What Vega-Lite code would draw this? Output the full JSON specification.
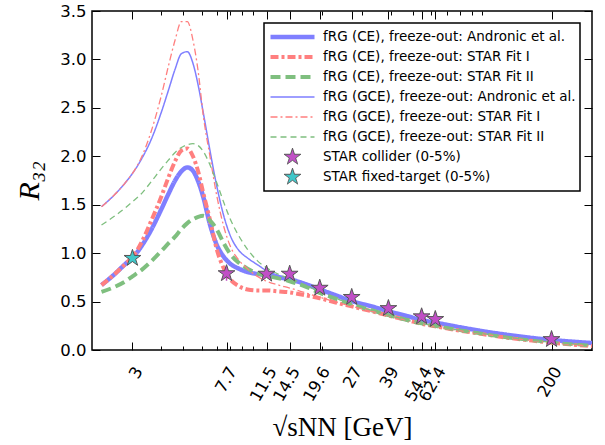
{
 "$schema": "https://vega.github.io/schema/vega-lite/v6.json",
 "width": 500,
 "height": 339,
 "autosize": {"type": "none"},
 "padding": {"left": 92, "top": 11, "right": 13, "bottom": 95},
 "background": "white",
 "config": {
  "view": {"stroke": "black", "strokeWidth": 1.5},
  "font": "DejaVu Sans",
  "axis": {"grid": false, "domain": false, "tickColor": "black", "tickWidth": 1, "labelColor": "black", "titleColor": "black", "labelFont": "DejaVu Sans", "labelFontSize": 16.5},
  "legend": {"orient": "top-right", "offset": 12, "padding": 4, "strokeColor": "black", "strokeWidth": 1.5, "fillColor": "white", "labelFont": "DejaVu Sans", "labelFontSize": 13.5, "labelColor": "black", "labelLimit": 400, "symbolSize": 1936, "clipHeight": 20, "rowPadding": 0, "labelOffset": 6, "cornerRadius": 0}
 },
 "data": {"values": [
  {"s":"fRG (CE), freeze-out: Andronic et al.","x":2.2,"y":0.67},{"s":"fRG (CE), freeze-out: Andronic et al.","x":2.5,"y":0.78},{"s":"fRG (CE), freeze-out: Andronic et al.","x":2.8,"y":0.89},{"s":"fRG (CE), freeze-out: Andronic et al.","x":3,"y":0.95},{"s":"fRG (CE), freeze-out: Andronic et al.","x":3.3,"y":1.08},{"s":"fRG (CE), freeze-out: Andronic et al.","x":3.6,"y":1.23},{"s":"fRG (CE), freeze-out: Andronic et al.","x":4,"y":1.45},{"s":"fRG (CE), freeze-out: Andronic et al.","x":4.3,"y":1.61},{"s":"fRG (CE), freeze-out: Andronic et al.","x":4.6,"y":1.75},{"s":"fRG (CE), freeze-out: Andronic et al.","x":4.9,"y":1.845},{"s":"fRG (CE), freeze-out: Andronic et al.","x":5.2,"y":1.885},{"s":"fRG (CE), freeze-out: Andronic et al.","x":5.5,"y":1.85},{"s":"fRG (CE), freeze-out: Andronic et al.","x":5.8,"y":1.74},{"s":"fRG (CE), freeze-out: Andronic et al.","x":6.1,"y":1.58},{"s":"fRG (CE), freeze-out: Andronic et al.","x":6.5,"y":1.31},{"s":"fRG (CE), freeze-out: Andronic et al.","x":7,"y":1.08},{"s":"fRG (CE), freeze-out: Andronic et al.","x":7.5,"y":0.96},{"s":"fRG (CE), freeze-out: Andronic et al.","x":8,"y":0.89},{"s":"fRG (CE), freeze-out: Andronic et al.","x":8.7,"y":0.84},{"s":"fRG (CE), freeze-out: Andronic et al.","x":9.5,"y":0.805},{"s":"fRG (CE), freeze-out: Andronic et al.","x":10.5,"y":0.785},{"s":"fRG (CE), freeze-out: Andronic et al.","x":11.5,"y":0.775},{"s":"fRG (CE), freeze-out: Andronic et al.","x":13,"y":0.75},{"s":"fRG (CE), freeze-out: Andronic et al.","x":14.5,"y":0.73},{"s":"fRG (CE), freeze-out: Andronic et al.","x":17,"y":0.68},{"s":"fRG (CE), freeze-out: Andronic et al.","x":19.6,"y":0.625},{"s":"fRG (CE), freeze-out: Andronic et al.","x":23,"y":0.565},{"s":"fRG (CE), freeze-out: Andronic et al.","x":27,"y":0.505},{"s":"fRG (CE), freeze-out: Andronic et al.","x":33,"y":0.45},{"s":"fRG (CE), freeze-out: Andronic et al.","x":39,"y":0.4},{"s":"fRG (CE), freeze-out: Andronic et al.","x":47,"y":0.35},{"s":"fRG (CE), freeze-out: Andronic et al.","x":54.4,"y":0.31},{"s":"fRG (CE), freeze-out: Andronic et al.","x":62.4,"y":0.283},{"s":"fRG (CE), freeze-out: Andronic et al.","x":80,"y":0.235},{"s":"fRG (CE), freeze-out: Andronic et al.","x":100,"y":0.195},{"s":"fRG (CE), freeze-out: Andronic et al.","x":130,"y":0.155},{"s":"fRG (CE), freeze-out: Andronic et al.","x":160,"y":0.128},{"s":"fRG (CE), freeze-out: Andronic et al.","x":200,"y":0.103},{"s":"fRG (CE), freeze-out: Andronic et al.","x":250,"y":0.085},{"s":"fRG (CE), freeze-out: Andronic et al.","x":300,"y":0.072},

  {"s":"fRG (CE), freeze-out: STAR Fit I","x":2.2,"y":0.67},{"s":"fRG (CE), freeze-out: STAR Fit I","x":2.5,"y":0.78},{"s":"fRG (CE), freeze-out: STAR Fit I","x":2.8,"y":0.89},{"s":"fRG (CE), freeze-out: STAR Fit I","x":3,"y":0.96},{"s":"fRG (CE), freeze-out: STAR Fit I","x":3.3,"y":1.12},{"s":"fRG (CE), freeze-out: STAR Fit I","x":3.6,"y":1.32},{"s":"fRG (CE), freeze-out: STAR Fit I","x":4,"y":1.58},{"s":"fRG (CE), freeze-out: STAR Fit I","x":4.3,"y":1.78},{"s":"fRG (CE), freeze-out: STAR Fit I","x":4.6,"y":1.95},{"s":"fRG (CE), freeze-out: STAR Fit I","x":4.9,"y":2.06},{"s":"fRG (CE), freeze-out: STAR Fit I","x":5.2,"y":2.08},{"s":"fRG (CE), freeze-out: STAR Fit I","x":5.5,"y":2.0},{"s":"fRG (CE), freeze-out: STAR Fit I","x":5.8,"y":1.84},{"s":"fRG (CE), freeze-out: STAR Fit I","x":6.1,"y":1.62},{"s":"fRG (CE), freeze-out: STAR Fit I","x":6.5,"y":1.36},{"s":"fRG (CE), freeze-out: STAR Fit I","x":7,"y":1.03},{"s":"fRG (CE), freeze-out: STAR Fit I","x":7.5,"y":0.84},{"s":"fRG (CE), freeze-out: STAR Fit I","x":8,"y":0.73},{"s":"fRG (CE), freeze-out: STAR Fit I","x":8.7,"y":0.66},{"s":"fRG (CE), freeze-out: STAR Fit I","x":9.5,"y":0.625},{"s":"fRG (CE), freeze-out: STAR Fit I","x":10.5,"y":0.615},{"s":"fRG (CE), freeze-out: STAR Fit I","x":11.5,"y":0.615},{"s":"fRG (CE), freeze-out: STAR Fit I","x":13,"y":0.605},{"s":"fRG (CE), freeze-out: STAR Fit I","x":14.5,"y":0.595},{"s":"fRG (CE), freeze-out: STAR Fit I","x":17,"y":0.565},{"s":"fRG (CE), freeze-out: STAR Fit I","x":19.6,"y":0.535},{"s":"fRG (CE), freeze-out: STAR Fit I","x":23,"y":0.49},{"s":"fRG (CE), freeze-out: STAR Fit I","x":27,"y":0.45},{"s":"fRG (CE), freeze-out: STAR Fit I","x":33,"y":0.4},{"s":"fRG (CE), freeze-out: STAR Fit I","x":39,"y":0.355},{"s":"fRG (CE), freeze-out: STAR Fit I","x":47,"y":0.31},{"s":"fRG (CE), freeze-out: STAR Fit I","x":54.4,"y":0.27},{"s":"fRG (CE), freeze-out: STAR Fit I","x":62.4,"y":0.245},{"s":"fRG (CE), freeze-out: STAR Fit I","x":80,"y":0.2},{"s":"fRG (CE), freeze-out: STAR Fit I","x":100,"y":0.165},{"s":"fRG (CE), freeze-out: STAR Fit I","x":130,"y":0.125},{"s":"fRG (CE), freeze-out: STAR Fit I","x":160,"y":0.1},{"s":"fRG (CE), freeze-out: STAR Fit I","x":200,"y":0.075},{"s":"fRG (CE), freeze-out: STAR Fit I","x":250,"y":0.055},{"s":"fRG (CE), freeze-out: STAR Fit I","x":300,"y":0.04},

  {"s":"fRG (CE), freeze-out: STAR Fit II","x":2.2,"y":0.6},{"s":"fRG (CE), freeze-out: STAR Fit II","x":2.5,"y":0.65},{"s":"fRG (CE), freeze-out: STAR Fit II","x":2.8,"y":0.71},{"s":"fRG (CE), freeze-out: STAR Fit II","x":3,"y":0.76},{"s":"fRG (CE), freeze-out: STAR Fit II","x":3.3,"y":0.83},{"s":"fRG (CE), freeze-out: STAR Fit II","x":3.6,"y":0.91},{"s":"fRG (CE), freeze-out: STAR Fit II","x":4,"y":1.02},{"s":"fRG (CE), freeze-out: STAR Fit II","x":4.3,"y":1.1},{"s":"fRG (CE), freeze-out: STAR Fit II","x":4.6,"y":1.17},{"s":"fRG (CE), freeze-out: STAR Fit II","x":4.9,"y":1.25},{"s":"fRG (CE), freeze-out: STAR Fit II","x":5.2,"y":1.31},{"s":"fRG (CE), freeze-out: STAR Fit II","x":5.5,"y":1.35},{"s":"fRG (CE), freeze-out: STAR Fit II","x":5.8,"y":1.375},{"s":"fRG (CE), freeze-out: STAR Fit II","x":6.1,"y":1.385},{"s":"fRG (CE), freeze-out: STAR Fit II","x":6.5,"y":1.34},{"s":"fRG (CE), freeze-out: STAR Fit II","x":7,"y":1.24},{"s":"fRG (CE), freeze-out: STAR Fit II","x":7.5,"y":1.1},{"s":"fRG (CE), freeze-out: STAR Fit II","x":8,"y":0.99},{"s":"fRG (CE), freeze-out: STAR Fit II","x":8.7,"y":0.9},{"s":"fRG (CE), freeze-out: STAR Fit II","x":9.5,"y":0.84},{"s":"fRG (CE), freeze-out: STAR Fit II","x":10.5,"y":0.79},{"s":"fRG (CE), freeze-out: STAR Fit II","x":11.5,"y":0.765},{"s":"fRG (CE), freeze-out: STAR Fit II","x":13,"y":0.74},{"s":"fRG (CE), freeze-out: STAR Fit II","x":14.5,"y":0.71},{"s":"fRG (CE), freeze-out: STAR Fit II","x":17,"y":0.655},{"s":"fRG (CE), freeze-out: STAR Fit II","x":19.6,"y":0.59},{"s":"fRG (CE), freeze-out: STAR Fit II","x":23,"y":0.53},{"s":"fRG (CE), freeze-out: STAR Fit II","x":27,"y":0.47},{"s":"fRG (CE), freeze-out: STAR Fit II","x":33,"y":0.41},{"s":"fRG (CE), freeze-out: STAR Fit II","x":39,"y":0.36},{"s":"fRG (CE), freeze-out: STAR Fit II","x":47,"y":0.31},{"s":"fRG (CE), freeze-out: STAR Fit II","x":54.4,"y":0.275},{"s":"fRG (CE), freeze-out: STAR Fit II","x":62.4,"y":0.25},{"s":"fRG (CE), freeze-out: STAR Fit II","x":80,"y":0.205},{"s":"fRG (CE), freeze-out: STAR Fit II","x":100,"y":0.17},{"s":"fRG (CE), freeze-out: STAR Fit II","x":130,"y":0.13},{"s":"fRG (CE), freeze-out: STAR Fit II","x":160,"y":0.105},{"s":"fRG (CE), freeze-out: STAR Fit II","x":200,"y":0.08},{"s":"fRG (CE), freeze-out: STAR Fit II","x":250,"y":0.062},{"s":"fRG (CE), freeze-out: STAR Fit II","x":300,"y":0.05},

  {"s":"fRG (GCE), freeze-out: Andronic et al.","x":2.2,"y":1.48},{"s":"fRG (GCE), freeze-out: Andronic et al.","x":2.5,"y":1.6},{"s":"fRG (GCE), freeze-out: Andronic et al.","x":2.8,"y":1.73},{"s":"fRG (GCE), freeze-out: Andronic et al.","x":3,"y":1.823},{"s":"fRG (GCE), freeze-out: Andronic et al.","x":3.3,"y":1.98},{"s":"fRG (GCE), freeze-out: Andronic et al.","x":3.6,"y":2.16},{"s":"fRG (GCE), freeze-out: Andronic et al.","x":4,"y":2.45},{"s":"fRG (GCE), freeze-out: Andronic et al.","x":4.3,"y":2.68},{"s":"fRG (GCE), freeze-out: Andronic et al.","x":4.6,"y":2.9},{"s":"fRG (GCE), freeze-out: Andronic et al.","x":4.9,"y":3.06},{"s":"fRG (GCE), freeze-out: Andronic et al.","x":5.2,"y":3.08},{"s":"fRG (GCE), freeze-out: Andronic et al.","x":5.5,"y":2.96},{"s":"fRG (GCE), freeze-out: Andronic et al.","x":5.8,"y":2.73},{"s":"fRG (GCE), freeze-out: Andronic et al.","x":6.1,"y":2.45},{"s":"fRG (GCE), freeze-out: Andronic et al.","x":6.5,"y":2.08},{"s":"fRG (GCE), freeze-out: Andronic et al.","x":7,"y":1.68},{"s":"fRG (GCE), freeze-out: Andronic et al.","x":7.5,"y":1.38},{"s":"fRG (GCE), freeze-out: Andronic et al.","x":8,"y":1.18},{"s":"fRG (GCE), freeze-out: Andronic et al.","x":8.7,"y":1.03},{"s":"fRG (GCE), freeze-out: Andronic et al.","x":9.5,"y":0.95},{"s":"fRG (GCE), freeze-out: Andronic et al.","x":10.5,"y":0.88},{"s":"fRG (GCE), freeze-out: Andronic et al.","x":11.5,"y":0.82},{"s":"fRG (GCE), freeze-out: Andronic et al.","x":13,"y":0.77},{"s":"fRG (GCE), freeze-out: Andronic et al.","x":14.5,"y":0.74},{"s":"fRG (GCE), freeze-out: Andronic et al.","x":17,"y":0.685},{"s":"fRG (GCE), freeze-out: Andronic et al.","x":19.6,"y":0.628},{"s":"fRG (GCE), freeze-out: Andronic et al.","x":23,"y":0.567},{"s":"fRG (GCE), freeze-out: Andronic et al.","x":27,"y":0.507},{"s":"fRG (GCE), freeze-out: Andronic et al.","x":33,"y":0.45},{"s":"fRG (GCE), freeze-out: Andronic et al.","x":39,"y":0.4},{"s":"fRG (GCE), freeze-out: Andronic et al.","x":54.4,"y":0.31},{"s":"fRG (GCE), freeze-out: Andronic et al.","x":100,"y":0.195},{"s":"fRG (GCE), freeze-out: Andronic et al.","x":200,"y":0.103},{"s":"fRG (GCE), freeze-out: Andronic et al.","x":300,"y":0.072},

  {"s":"fRG (GCE), freeze-out: STAR Fit I","x":2.2,"y":1.48},{"s":"fRG (GCE), freeze-out: STAR Fit I","x":2.5,"y":1.6},{"s":"fRG (GCE), freeze-out: STAR Fit I","x":2.8,"y":1.73},{"s":"fRG (GCE), freeze-out: STAR Fit I","x":3,"y":1.823},{"s":"fRG (GCE), freeze-out: STAR Fit I","x":3.3,"y":2.0},{"s":"fRG (GCE), freeze-out: STAR Fit I","x":3.6,"y":2.24},{"s":"fRG (GCE), freeze-out: STAR Fit I","x":4,"y":2.62},{"s":"fRG (GCE), freeze-out: STAR Fit I","x":4.3,"y":2.93},{"s":"fRG (GCE), freeze-out: STAR Fit I","x":4.6,"y":3.2},{"s":"fRG (GCE), freeze-out: STAR Fit I","x":4.9,"y":3.39},{"s":"fRG (GCE), freeze-out: STAR Fit I","x":5.2,"y":3.39},{"s":"fRG (GCE), freeze-out: STAR Fit I","x":5.5,"y":3.2},{"s":"fRG (GCE), freeze-out: STAR Fit I","x":5.8,"y":2.87},{"s":"fRG (GCE), freeze-out: STAR Fit I","x":6.1,"y":2.42},{"s":"fRG (GCE), freeze-out: STAR Fit I","x":6.5,"y":2.02},{"s":"fRG (GCE), freeze-out: STAR Fit I","x":7,"y":1.58},{"s":"fRG (GCE), freeze-out: STAR Fit I","x":7.5,"y":1.27},{"s":"fRG (GCE), freeze-out: STAR Fit I","x":8,"y":1.07},{"s":"fRG (GCE), freeze-out: STAR Fit I","x":8.7,"y":0.93},{"s":"fRG (GCE), freeze-out: STAR Fit I","x":9.5,"y":0.84},{"s":"fRG (GCE), freeze-out: STAR Fit I","x":10.5,"y":0.76},{"s":"fRG (GCE), freeze-out: STAR Fit I","x":11.5,"y":0.71},{"s":"fRG (GCE), freeze-out: STAR Fit I","x":13,"y":0.67},{"s":"fRG (GCE), freeze-out: STAR Fit I","x":14.5,"y":0.64},{"s":"fRG (GCE), freeze-out: STAR Fit I","x":17,"y":0.59},{"s":"fRG (GCE), freeze-out: STAR Fit I","x":19.6,"y":0.545},{"s":"fRG (GCE), freeze-out: STAR Fit I","x":23,"y":0.495},{"s":"fRG (GCE), freeze-out: STAR Fit I","x":27,"y":0.452},{"s":"fRG (GCE), freeze-out: STAR Fit I","x":33,"y":0.4},{"s":"fRG (GCE), freeze-out: STAR Fit I","x":39,"y":0.355},{"s":"fRG (GCE), freeze-out: STAR Fit I","x":54.4,"y":0.27},{"s":"fRG (GCE), freeze-out: STAR Fit I","x":100,"y":0.165},{"s":"fRG (GCE), freeze-out: STAR Fit I","x":200,"y":0.075},{"s":"fRG (GCE), freeze-out: STAR Fit I","x":300,"y":0.04},

  {"s":"fRG (GCE), freeze-out: STAR Fit II","x":2.2,"y":1.29},{"s":"fRG (GCE), freeze-out: STAR Fit II","x":2.5,"y":1.38},{"s":"fRG (GCE), freeze-out: STAR Fit II","x":2.8,"y":1.47},{"s":"fRG (GCE), freeze-out: STAR Fit II","x":3,"y":1.53},{"s":"fRG (GCE), freeze-out: STAR Fit II","x":3.3,"y":1.62},{"s":"fRG (GCE), freeze-out: STAR Fit II","x":3.6,"y":1.73},{"s":"fRG (GCE), freeze-out: STAR Fit II","x":4,"y":1.87},{"s":"fRG (GCE), freeze-out: STAR Fit II","x":4.3,"y":1.96},{"s":"fRG (GCE), freeze-out: STAR Fit II","x":4.6,"y":2.04},{"s":"fRG (GCE), freeze-out: STAR Fit II","x":4.9,"y":2.09},{"s":"fRG (GCE), freeze-out: STAR Fit II","x":5.2,"y":2.12},{"s":"fRG (GCE), freeze-out: STAR Fit II","x":5.5,"y":2.13},{"s":"fRG (GCE), freeze-out: STAR Fit II","x":5.8,"y":2.11},{"s":"fRG (GCE), freeze-out: STAR Fit II","x":6.1,"y":2.05},{"s":"fRG (GCE), freeze-out: STAR Fit II","x":6.5,"y":1.92},{"s":"fRG (GCE), freeze-out: STAR Fit II","x":7,"y":1.72},{"s":"fRG (GCE), freeze-out: STAR Fit II","x":7.5,"y":1.52},{"s":"fRG (GCE), freeze-out: STAR Fit II","x":8,"y":1.35},{"s":"fRG (GCE), freeze-out: STAR Fit II","x":8.7,"y":1.18},{"s":"fRG (GCE), freeze-out: STAR Fit II","x":9.5,"y":1.04},{"s":"fRG (GCE), freeze-out: STAR Fit II","x":10.5,"y":0.92},{"s":"fRG (GCE), freeze-out: STAR Fit II","x":11.5,"y":0.85},{"s":"fRG (GCE), freeze-out: STAR Fit II","x":13,"y":0.78},{"s":"fRG (GCE), freeze-out: STAR Fit II","x":14.5,"y":0.74},{"s":"fRG (GCE), freeze-out: STAR Fit II","x":17,"y":0.67},{"s":"fRG (GCE), freeze-out: STAR Fit II","x":19.6,"y":0.6},{"s":"fRG (GCE), freeze-out: STAR Fit II","x":23,"y":0.535},{"s":"fRG (GCE), freeze-out: STAR Fit II","x":27,"y":0.472},{"s":"fRG (GCE), freeze-out: STAR Fit II","x":33,"y":0.41},{"s":"fRG (GCE), freeze-out: STAR Fit II","x":39,"y":0.36},{"s":"fRG (GCE), freeze-out: STAR Fit II","x":54.4,"y":0.275},{"s":"fRG (GCE), freeze-out: STAR Fit II","x":100,"y":0.17},{"s":"fRG (GCE), freeze-out: STAR Fit II","x":200,"y":0.08},{"s":"fRG (GCE), freeze-out: STAR Fit II","x":300,"y":0.05},

  {"s":"STAR collider (0-5%)","x":7.7,"y":0.79,"lo":0.715,"hi":0.865},
  {"s":"STAR collider (0-5%)","x":11.5,"y":0.785,"lo":0.755,"hi":0.815},
  {"s":"STAR collider (0-5%)","x":14.5,"y":0.785,"lo":0.755,"hi":0.815},
  {"s":"STAR collider (0-5%)","x":19.6,"y":0.64,"lo":0.615,"hi":0.665},
  {"s":"STAR collider (0-5%)","x":27,"y":0.545,"lo":0.525,"hi":0.565},
  {"s":"STAR collider (0-5%)","x":39,"y":0.43,"lo":0.41,"hi":0.45},
  {"s":"STAR collider (0-5%)","x":54.4,"y":0.345,"lo":0.325,"hi":0.365},
  {"s":"STAR collider (0-5%)","x":62.4,"y":0.317,"lo":0.297,"hi":0.337},
  {"s":"STAR collider (0-5%)","x":200,"y":0.11,"lo":0.095,"hi":0.125},
  {"s":"STAR fixed-target (0-5%)","x":3,"y":0.948,"lo":0.908,"hi":0.988}
 ]},
 "layer": [
  {
   "transform": [{"filter": {"field": "s", "oneOf": ["fRG (CE), freeze-out: Andronic et al.", "fRG (CE), freeze-out: STAR Fit I", "fRG (CE), freeze-out: STAR Fit II"]}}],
   "mark": {"type": "line", "interpolate": "monotone", "strokeCap": "butt"},
   "encoding": {
    "x": {"field": "x", "type": "quantitative", "scale": {"type": "log", "domain": [2, 300], "nice": false},
     "axis": {"orient": "bottom", "values": [3, 7.7, 11.5, 14.5, 19.6, 27, 39, 54.4, 62.4, 200], "format": "~g", "labelAngle": -60, "labelAlign": "right", "labelBaseline": "middle", "labelOverlap": false, "labelFlush": false, "labelBound": false, "tickSize": -8, "labelPadding": 26, "labelOffset": 6, "title": "√sNN [GeV]", "titleFont": "Liberation Serif", "titleFontSize": 27, "titleFontWeight": "normal", "titlePadding": 10}},
    "y": {"field": "y", "type": "quantitative", "scale": {"domain": [0, 3.5], "nice": false, "zero": false},
     "axis": {"orient": "left", "values": [0, 0.5, 1, 1.5, 2, 2.5, 3, 3.5], "format": ".1f", "tickSize": -8, "labelPadding": 14, "title": "R₃₂", "titleFont": "Liberation Serif", "titleFontSize": 30, "titleFontStyle": "italic", "titleFontWeight": "normal", "titlePadding": 15}},
    "stroke": {"field": "s", "type": "nominal", "title": null, "scale": {"domain": ["fRG (CE), freeze-out: Andronic et al.", "fRG (CE), freeze-out: STAR Fit I", "fRG (CE), freeze-out: STAR Fit II", "fRG (GCE), freeze-out: Andronic et al.", "fRG (GCE), freeze-out: STAR Fit I", "fRG (GCE), freeze-out: STAR Fit II", "STAR collider (0-5%)", "STAR fixed-target (0-5%)"], "range": ["#7f7fff", "#ff7f7f", "#7fbf7f", "#7f7fff", "#ff7f7f", "#7fbf7f", "#555555", "#555555"]}},
    "strokeDash": {"field": "s", "type": "nominal", "title": null, "scale": {"domain": ["fRG (CE), freeze-out: Andronic et al.", "fRG (CE), freeze-out: STAR Fit I", "fRG (CE), freeze-out: STAR Fit II", "fRG (GCE), freeze-out: Andronic et al.", "fRG (GCE), freeze-out: STAR Fit I", "fRG (GCE), freeze-out: STAR Fit II", "STAR collider (0-5%)", "STAR fixed-target (0-5%)"], "range": [[1, 0], [8, 3, 3, 3], [10, 5], [1, 0], [7, 3, 2, 3], [6, 4], [1, 0], [1, 0]]}},
    "strokeWidth": {"field": "s", "type": "nominal", "title": null, "scale": {"type": "ordinal", "domain": ["fRG (CE), freeze-out: Andronic et al.", "fRG (CE), freeze-out: STAR Fit I", "fRG (CE), freeze-out: STAR Fit II", "fRG (GCE), freeze-out: Andronic et al.", "fRG (GCE), freeze-out: STAR Fit I", "fRG (GCE), freeze-out: STAR Fit II", "STAR collider (0-5%)", "STAR fixed-target (0-5%)"], "range": [4.5, 4, 4, 1.5, 1.3, 1.3, 1, 1]}}
   }
  },
  {
   "transform": [{"filter": {"field": "s", "oneOf": ["fRG (GCE), freeze-out: Andronic et al.", "fRG (GCE), freeze-out: STAR Fit I", "fRG (GCE), freeze-out: STAR Fit II"]}}],
   "mark": {"type": "line", "interpolate": "monotone", "strokeCap": "butt"},
   "encoding": {
    "x": {"field": "x", "type": "quantitative", "scale": {"type": "log", "domain": [2, 300], "nice": false},
     "axis": {"orient": "bottom", "values": [4, 5, 6, 7, 8, 9, 10, 20, 30, 40, 50, 60, 70, 80, 90, 100], "labels": false, "tickSize": -4, "title": null}},
    "y": {"field": "y", "type": "quantitative", "scale": {"domain": [0, 3.5], "nice": false, "zero": false},
     "axis": {"orient": "right", "values": [0, 0.5, 1, 1.5, 2, 2.5, 3, 3.5], "labels": false, "tickSize": -8, "title": null}},
    "stroke": {"field": "s", "type": "nominal", "title": null, "scale": {"domain": ["fRG (CE), freeze-out: Andronic et al.", "fRG (CE), freeze-out: STAR Fit I", "fRG (CE), freeze-out: STAR Fit II", "fRG (GCE), freeze-out: Andronic et al.", "fRG (GCE), freeze-out: STAR Fit I", "fRG (GCE), freeze-out: STAR Fit II", "STAR collider (0-5%)", "STAR fixed-target (0-5%)"], "range": ["#7f7fff", "#ff7f7f", "#7fbf7f", "#7f7fff", "#ff7f7f", "#7fbf7f", "#555555", "#555555"]}},
    "strokeDash": {"field": "s", "type": "nominal", "title": null, "scale": {"domain": ["fRG (CE), freeze-out: Andronic et al.", "fRG (CE), freeze-out: STAR Fit I", "fRG (CE), freeze-out: STAR Fit II", "fRG (GCE), freeze-out: Andronic et al.", "fRG (GCE), freeze-out: STAR Fit I", "fRG (GCE), freeze-out: STAR Fit II", "STAR collider (0-5%)", "STAR fixed-target (0-5%)"], "range": [[1, 0], [8, 3, 3, 3], [10, 5], [1, 0], [7, 3, 2, 3], [6, 4], [1, 0], [1, 0]]}},
    "strokeWidth": {"field": "s", "type": "nominal", "title": null, "scale": {"type": "ordinal", "domain": ["fRG (CE), freeze-out: Andronic et al.", "fRG (CE), freeze-out: STAR Fit I", "fRG (CE), freeze-out: STAR Fit II", "fRG (GCE), freeze-out: Andronic et al.", "fRG (GCE), freeze-out: STAR Fit I", "fRG (GCE), freeze-out: STAR Fit II", "STAR collider (0-5%)", "STAR fixed-target (0-5%)"], "range": [4.5, 4, 4, 1.5, 1.3, 1.3, 1, 1]}}
   }
  },
  {
   "transform": [{"filter": {"field": "s", "oneOf": ["STAR collider (0-5%)", "STAR fixed-target (0-5%)"]}}],
   "mark": {"type": "rule", "strokeWidth": 1.5},
   "encoding": {
    "x": {"field": "x", "type": "quantitative", "scale": {"type": "log", "domain": [2, 300], "nice": false},
     "axis": {"orient": "top", "values": [3, 7.7, 11.5, 14.5, 19.6, 27, 39, 54.4, 62.4, 200], "labels": false, "tickSize": -8, "title": null}},
    "y": {"field": "lo", "type": "quantitative", "scale": {"domain": [0, 3.5], "nice": false, "zero": false}, "axis": null},
    "y2": {"field": "hi"},
    "color": {"field": "s", "type": "nominal", "legend": null, "scale": {"domain": ["STAR collider (0-5%)", "STAR fixed-target (0-5%)"], "range": ["#c14fc6", "#3fc7c9"]}}
   }
  },
  {
   "transform": [{"filter": {"field": "s", "oneOf": ["STAR collider (0-5%)", "STAR fixed-target (0-5%)"]}}],
   "mark": {"type": "point", "filled": true, "opacity": 1, "size": 1936},
   "encoding": {
    "x": {"field": "x", "type": "quantitative", "scale": {"type": "log", "domain": [2, 300], "nice": false},
     "axis": {"orient": "top", "values": [4, 5, 6, 7, 8, 9, 10, 20, 30, 40, 50, 60, 70, 80, 90, 100], "labels": false, "tickSize": -4, "title": null}},
    "y": {"field": "y", "type": "quantitative", "scale": {"domain": [0, 3.5], "nice": false, "zero": false}, "axis": null},
    "shape": {"field": "s", "type": "nominal", "title": null, "scale": {"domain": ["fRG (CE), freeze-out: Andronic et al.", "fRG (CE), freeze-out: STAR Fit I", "fRG (CE), freeze-out: STAR Fit II", "fRG (GCE), freeze-out: Andronic et al.", "fRG (GCE), freeze-out: STAR Fit I", "fRG (GCE), freeze-out: STAR Fit II", "STAR collider (0-5%)", "STAR fixed-target (0-5%)"], "range": ["stroke", "stroke", "stroke", "stroke", "stroke", "stroke", "M0,-0.4L0.0898,-0.1236L0.3804,-0.1236L0.1453,0.0472L0.2351,0.3236L0,0.1528L-0.2351,0.3236L-0.1453,0.0472L-0.3804,-0.1236L-0.0898,-0.1236Z", "M0,-0.4L0.0898,-0.1236L0.3804,-0.1236L0.1453,0.0472L0.2351,0.3236L0,0.1528L-0.2351,0.3236L-0.1453,0.0472L-0.3804,-0.1236L-0.0898,-0.1236Z"]}},
    "fill": {"field": "s", "type": "nominal", "title": null, "scale": {"domain": ["fRG (CE), freeze-out: Andronic et al.", "fRG (CE), freeze-out: STAR Fit I", "fRG (CE), freeze-out: STAR Fit II", "fRG (GCE), freeze-out: Andronic et al.", "fRG (GCE), freeze-out: STAR Fit I", "fRG (GCE), freeze-out: STAR Fit II", "STAR collider (0-5%)", "STAR fixed-target (0-5%)"], "range": ["transparent", "transparent", "transparent", "transparent", "transparent", "transparent", "#c14fc6", "#3fc7c9"]}},
    "stroke": {"field": "s", "type": "nominal", "title": null, "scale": {"domain": ["fRG (CE), freeze-out: Andronic et al.", "fRG (CE), freeze-out: STAR Fit I", "fRG (CE), freeze-out: STAR Fit II", "fRG (GCE), freeze-out: Andronic et al.", "fRG (GCE), freeze-out: STAR Fit I", "fRG (GCE), freeze-out: STAR Fit II", "STAR collider (0-5%)", "STAR fixed-target (0-5%)"], "range": ["#7f7fff", "#ff7f7f", "#7fbf7f", "#7f7fff", "#ff7f7f", "#7fbf7f", "#555555", "#555555"]}},
    "strokeWidth": {"field": "s", "type": "nominal", "title": null, "scale": {"type": "ordinal", "domain": ["fRG (CE), freeze-out: Andronic et al.", "fRG (CE), freeze-out: STAR Fit I", "fRG (CE), freeze-out: STAR Fit II", "fRG (GCE), freeze-out: Andronic et al.", "fRG (GCE), freeze-out: STAR Fit I", "fRG (GCE), freeze-out: STAR Fit II", "STAR collider (0-5%)", "STAR fixed-target (0-5%)"], "range": [4.5, 4, 4, 1.5, 1.3, 1.3, 1, 1]}}
   }
  }
 ],
 "resolve": {"axis": {"x": "independent", "y": "independent"}}
}
